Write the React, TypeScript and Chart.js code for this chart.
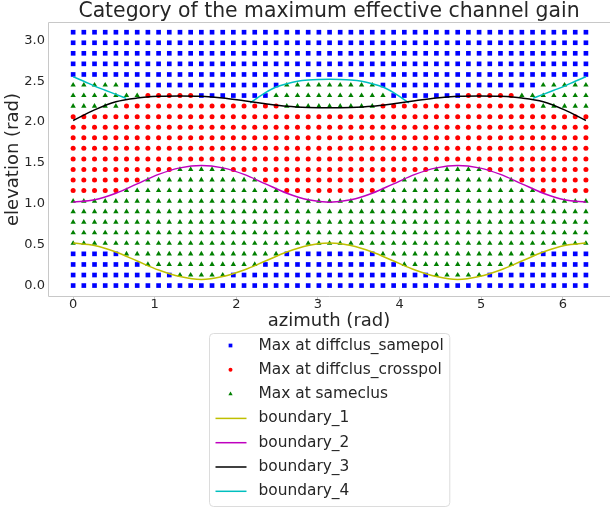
import React, { useEffect, useRef } from "react";
import { Chart, registerables } from "chart.js";

Chart.register(...registerables);

// ---------------- data ----------------
const titleText = "Category of the maximum effective channel gain";
const xAxisLabel = "azimuth (rad)";
const yAxisLabel = "elevation (rad)";

const xTickValues = [0, 1, 2, 3, 4, 5, 6];
const yTickValues = [0, 0.5, 1.0, 1.5, 2.0, 2.5, 3.0];

// grid of evaluated directions
const azimuth = [
  0, 0.131, 0.262, 0.393, 0.524, 0.654, 0.785, 0.916, 1.047, 1.178, 1.309, 1.44,
  1.571, 1.702, 1.833, 1.963, 2.094, 2.225, 2.356, 2.487, 2.618, 2.749, 2.88, 3.011,
  3.142, 3.272, 3.403, 3.534, 3.665, 3.796, 3.927, 4.058, 4.189, 4.32, 4.451, 4.581,
  4.712, 4.843, 4.974, 5.105, 5.236, 5.367, 5.498, 5.629, 5.76, 5.89, 6.021, 6.152, 6.283,
];
const elevation = [
  0, 0.129, 0.258, 0.388, 0.517, 0.646, 0.775, 0.904, 1.033, 1.163, 1.292, 1.421,
  1.55, 1.679, 1.808, 1.938, 2.067, 2.196, 2.325, 2.454, 2.583, 2.713, 2.842, 2.971, 3.1,
];

// category of each grid point, one row per elevation (bottom row first),
// run-length coded along azimuth: S = diffclus_samepol, C = diffclus_crosspol, G = sameclus
const categoryRuns: [string, number][][] = [
  [["S", 49]],
  [["S", 10], ["G", 5], ["S", 19], ["G", 5], ["S", 10]],
  [["S", 7], ["G", 11], ["S", 13], ["G", 11], ["S", 7]],
  [["S", 5], ["G", 15], ["S", 9], ["G", 15], ["S", 5]],
  [["G", 49]],
  [["G", 49]],
  [["G", 49]],
  [["G", 49]],
  [["G", 49]],
  [["C", 5], ["G", 15], ["C", 9], ["G", 15], ["C", 5]],
  [["C", 7], ["G", 11], ["C", 13], ["G", 11], ["C", 7]],
  [["C", 10], ["G", 5], ["C", 19], ["G", 5], ["C", 10]],
  [["C", 49]],
  [["C", 49]],
  [["C", 49]],
  [["C", 49]],
  [["C", 49]],
  [["G", 5], ["C", 15], ["G", 9], ["C", 15], ["G", 5]],
  [["G", 7], ["C", 5], ["S", 7], ["G", 11], ["S", 7], ["C", 5], ["G", 7]],
  [["G", 5], ["S", 15], ["G", 9], ["S", 15], ["G", 5]],
  [["S", 49]],
  [["S", 49]],
  [["S", 49]],
  [["S", 49]],
  [["S", 49]],
];

const categoryLabels = ["Max at diffclus_samepol", "Max at diffclus_crosspol", "Max at sameclus"];
const categoryCodes = ["S", "C", "G"];

// boundary curves
const boundaryAz = [
  0, 0.262, 0.524, 0.785, 1.047, 1.309, 1.571, 1.833, 2.094, 2.356, 2.618, 2.88, 3.142,
  3.403, 3.665, 3.927, 4.189, 4.451, 4.712, 4.974, 5.236, 5.498, 5.76, 6.021, 6.283,
];
const boundary1 = [
  0.52, 0.49, 0.41, 0.30, 0.19, 0.11, 0.075, 0.11, 0.19, 0.30, 0.41, 0.49, 0.52,
  0.49, 0.41, 0.30, 0.19, 0.11, 0.075, 0.11, 0.19, 0.30, 0.41, 0.49, 0.52,
];
const boundary2 = [
  1.02, 1.05, 1.13, 1.245, 1.36, 1.44, 1.47, 1.44, 1.36, 1.245, 1.13, 1.05, 1.02,
  1.05, 1.13, 1.245, 1.36, 1.44, 1.47, 1.44, 1.36, 1.245, 1.13, 1.05, 1.02,
];
const boundary3 = [
  2.02, 2.15, 2.25, 2.295, 2.315, 2.32, 2.315, 2.295, 2.26, 2.225, 2.195, 2.18, 2.175,
  2.18, 2.195, 2.225, 2.26, 2.295, 2.315, 2.32, 2.315, 2.295, 2.25, 2.15, 2.02,
];
const boundary4Az = [
  0, 0.131, 0.262, 0.393, 0.524, 0.65, null,
  2.17, 2.356, 2.487, 2.618, 2.749, 2.88, 3.011, 3.142, 3.272, 3.403, 3.534, 3.665, 3.796, 3.927, 4.113, null,
  5.633, 5.76, 5.89, 6.021, 6.152, 6.283,
];
const boundary4El = [
  2.555, 2.5, 2.44, 2.39, 2.34, 2.29, null,
  2.236, 2.36, 2.43, 2.47, 2.5, 2.515, 2.522, 2.525, 2.522, 2.515, 2.5, 2.47, 2.43, 2.36, 2.236, null,
  2.29, 2.34, 2.39, 2.44, 2.5, 2.555,
];
const boundaryLabels = ["boundary_1", "boundary_2", "boundary_3", "boundary_4"];

// ---------------- styles ----------------
const FONT = "'DejaVu Sans', sans-serif";
const TEXT = "#262626";
const SPINE = "#c8c8c8";
const markerColors = ["#0000ff", "#ff0000", "#008000"];
const markerStyles = ["rect", "circle", "triangle"];
const markerRadius = [3.3, 2.5, 3.1];
const lineColors = ["#bfbf00", "#bf00bf", "#000000", "#00bfbf"];

function drawMarker(ctx: CanvasRenderingContext2D, style: string, x: number, y: number, r: number) {
  ctx.beginPath();
  if (style === "rect") {
    const s = r * Math.SQRT1_2;
    ctx.rect(x - s, y - s, 2 * s, 2 * s);
  } else if (style === "circle") {
    ctx.arc(x, y, r, 0, Math.PI * 2);
  } else {
    ctx.moveTo(x, y - r);
    ctx.lineTo(x + r * Math.sin((2 * Math.PI) / 3), y - r * Math.cos((2 * Math.PI) / 3));
    ctx.lineTo(x + r * Math.sin((4 * Math.PI) / 3), y - r * Math.cos((4 * Math.PI) / 3));
    ctx.closePath();
  }
  ctx.fill();
}

const spinePlugin = {
  id: "spines",
  beforeDatasetsDraw(chart: any) {
    const { ctx, chartArea: a } = chart;
    ctx.save();
    ctx.strokeStyle = SPINE;
    ctx.lineWidth = 1;
    ctx.beginPath();
    ctx.moveTo(a.right, a.top + 0.5);
    ctx.lineTo(a.left + 0.5, a.top + 0.5);
    ctx.lineTo(a.left + 0.5, a.bottom - 0.5);
    ctx.lineTo(a.right, a.bottom - 0.5);
    ctx.stroke();
    ctx.restore();
  },
};

const legendPlugin = {
  id: "boxLegend",
  afterDraw(chart: any) {
    const { ctx, chartArea: a } = chart;
    const ds = chart.data.datasets;
    ctx.save();
    ctx.font = `15.4px ${FONT}`;
    const maxW = Math.max(...ds.map((d: any) => ctx.measureText(d.label).width));
    const textOffset = 49;
    const boxW = textOffset + maxW + 6;
    const cx = (a.left + a.right) / 2;
    const left = Math.round(cx - boxW / 2) + 0.5;
    const top = 333.5;
    const rowH = 24.3;
    const firstRow = 345.5;
    const boxH = 173;
    const rad = 4;
    ctx.beginPath();
    ctx.moveTo(left + rad, top);
    ctx.lineTo(left + boxW - rad, top);
    ctx.arcTo(left + boxW, top, left + boxW, top + rad, rad);
    ctx.lineTo(left + boxW, top + boxH - rad);
    ctx.arcTo(left + boxW, top + boxH, left + boxW - rad, top + boxH, rad);
    ctx.lineTo(left + rad, top + boxH);
    ctx.arcTo(left, top + boxH, left, top + boxH - rad, rad);
    ctx.lineTo(left, top + rad);
    ctx.arcTo(left, top, left + rad, top, rad);
    ctx.closePath();
    ctx.fillStyle = "rgba(255,255,255,0.8)";
    ctx.fill();
    ctx.strokeStyle = "#dcdcdc";
    ctx.lineWidth = 1;
    ctx.stroke();

    ds.forEach((d: any, i: number) => {
      const y = firstRow + i * rowH;
      if (d.showLine) {
        ctx.strokeStyle = d.borderColor;
        ctx.lineWidth = d.borderWidth;
        ctx.beginPath();
        ctx.moveTo(left + 6, y);
        ctx.lineTo(left + 37, y);
        ctx.stroke();
      } else {
        ctx.fillStyle = d.backgroundColor;
        drawMarker(ctx, d.pointStyle, left + 21, y, d.pointRadius * 0.8);
      }
      ctx.fillStyle = TEXT;
      ctx.textBaseline = "middle";
      ctx.textAlign = "left";
      ctx.fillText(d.label, left + textOffset, y);
    });
    ctx.restore();
  },
};

function buildDatasets() {
  const scatterSets = categoryCodes.map((code, ci) => {
    const pts: { x: number; y: number }[] = [];
    categoryRuns.forEach((runs, r) => {
      let col = 0;
      runs.forEach(([c, n]) => {
        for (let k = 0; k < n; k++) {
          if (c === code) pts.push({ x: azimuth[col], y: elevation[r] });
          col++;
        }
      });
    });
    return {
      type: "scatter",
      label: categoryLabels[ci],
      data: pts,
      showLine: false,
      pointStyle: markerStyles[ci],
      pointRadius: markerRadius[ci],
      pointBorderWidth: 0,
      backgroundColor: markerColors[ci],
      borderColor: markerColors[ci],
      order: 2,
    };
  });
  const curves = [boundary1, boundary2, boundary3].map((vals) => vals.map((v, k) => ({ x: boundaryAz[k], y: v })));
  curves.push(boundary4Az.map((az, k) => ({ x: az as any, y: boundary4El[k] as any })));
  const lineSets = curves.map((data, i) => ({
    type: "scatter",
    label: boundaryLabels[i],
    data,
    showLine: true,
    spanGaps: false,
    pointRadius: 0,
    borderColor: lineColors[i],
    backgroundColor: lineColors[i],
    borderWidth: 1.5,
    cubicInterpolationMode: "monotone",
    order: 1,
  }));
  return [...scatterSets, ...lineSets];
}

export default function App() {
  const ref = useRef<HTMLCanvasElement | null>(null);
  useEffect(() => {
    document.body.style.margin = "0";
    const canvas = ref.current;
    if (!canvas) return;
    const chart = new Chart(canvas, {
      type: "scatter",
      data: { datasets: buildDatasets() as any },
      options: {
        animation: false,
        responsive: false,
        devicePixelRatio: 1,
        layout: { padding: { left: 0, right: 0, top: 0, bottom: 176 } },
        plugins: {
          legend: { display: false },
          tooltip: { enabled: false },
          title: {
            display: true,
            fullSize: false,
            text: titleText,
            color: TEXT,
            font: { family: FONT, size: 20.4, weight: "normal", lineHeight: 1.0 },
            padding: { top: 1.6, bottom: 0 },
          },
        },
        scales: {
          x: {
            type: "linear",
            min: -0.308,
            max: 6.578,
            afterFit: (s: any) => {
              s.height = 35;
            },
            afterBuildTicks: (s: any) => {
              s.ticks = xTickValues.map((v) => ({ value: v }));
            },
            ticks: {
              padding: -3,
              color: TEXT,
              font: { family: FONT, size: 13 },
              callback: (v: any) => String(v),
            },
            grid: { display: true, drawOnChartArea: false, drawTicks: true, tickLength: 3, color: SPINE },
            border: { display: false },
            title: {
              display: true,
              text: xAxisLabel,
              color: TEXT,
              font: { family: FONT, size: 18 },
              padding: { top: 0, bottom: 0 },
            },
          },
          y: {
            type: "linear",
            min: -0.14,
            max: 3.225,
            afterFit: (s: any) => {
              s.width = 48;
            },
            afterBuildTicks: (s: any) => {
              s.ticks = yTickValues.map((v) => ({ value: v }));
            },
            ticks: {
              padding: 3,
              color: TEXT,
              font: { family: FONT, size: 13 },
              callback: (v: any) => Number(v).toFixed(1),
            },
            grid: { display: false, drawTicks: false },
            border: { display: false },
            title: {
              display: true,
              text: yAxisLabel,
              color: TEXT,
              font: { family: FONT, size: 18 },
              padding: { top: 2.5, bottom: 0 },
            },
          },
        },
      } as any,
      plugins: [spinePlugin, legendPlugin],
    });
    return () => chart.destroy();
  }, []);
  return <canvas ref={ref} width={614} height={508} style={{ display: "block" }} />;
}
